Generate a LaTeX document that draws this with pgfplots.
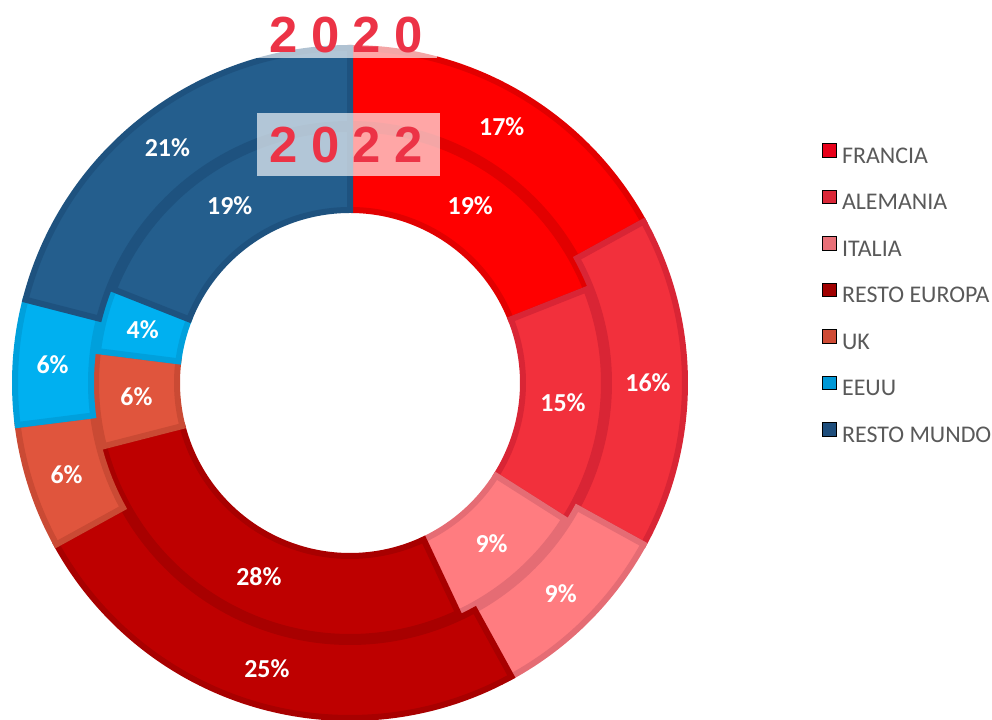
\documentclass[border=0pt]{standalone}
\usepackage{pgfplots}
\pgfplotsset{compat=1.18}
\usepackage{pgfplotstable}
\usepackage{fontspec}
\setmainfont{Carlito}
\newfontfamily\yearfont{Liberation Sans}

\definecolor{cFr}{HTML}{FF0000}\definecolor{cFrD}{HTML}{E20000}\definecolor{cFrL}{HTML}{E8001A}
\definecolor{cAl}{HTML}{F2303C}\definecolor{cAlD}{HTML}{D92535}\definecolor{cAlL}{HTML}{DA2838}
\definecolor{cIt}{HTML}{FF7C80}\definecolor{cItD}{HTML}{E56C74}\definecolor{cItL}{HTML}{E87078}
\definecolor{cRE}{HTML}{BE0000}\definecolor{cRED}{HTML}{A80000}\definecolor{cREL}{HTML}{A00000}
\definecolor{cUK}{HTML}{E0553D}\definecolor{cUKD}{HTML}{CA4A34}\definecolor{cUKL}{HTML}{CF4B35}
\definecolor{cUS}{HTML}{00B0F0}\definecolor{cUSD}{HTML}{00A0DC}\definecolor{cUSL}{HTML}{0098D6}
\definecolor{cRM}{HTML}{245E8D}\definecolor{cRMD}{HTML}{1E527F}\definecolor{cRML}{HTML}{1F4E7C}
\definecolor{yearred}{HTML}{EC3346}
\definecolor{legtext}{HTML}{595959}

\pgfplotstableread[col sep=comma]{
name,col,y2020,y2022
FRANCIA,cFr,17,19
ALEMANIA,cAl,16,15
ITALIA,cIt,9,9
RESTO EUROPA,cRE,25,28
UK,cUK,6,6
EEUU,cUS,6,4
RESTO MUNDO,cRM,21,19
}\data

\newcommand\labfont{\fontsize{26}{28}\selectfont\bfseries}

\begin{document}
\begin{tikzpicture}
\begin{axis}[
  x=1bp, y=1bp, xmin=0, xmax=992, ymin=0, ymax=720,
  hide axis, clip=true,
  legend image code/.code={\fill[#1] (0bp,-1bp) rectangle (13.5bp,12.5bp);},
  legend style={at={(axis cs:819,579)}, anchor=north west, draw=none, fill=none,
    font=\fontsize{24}{24}\selectfont, text=legtext,
    nodes={inner sep=0pt, text height=15bp, text depth=0pt},
    row sep=26.3bp, column sep=6bp},
  legend cell align=left,
]
\coordinate (C) at (axis cs:350,337);
\def\cumA{0}\def\cumB{0}
% rings
\pgfplotsforeachungrouped \i in {0,...,6}{%
  \pgfplotstablegetelem{\i}{col}\of\data \edef\cc{\pgfplotsretval}%
  \pgfplotstablegetelem{\i}{y2020}\of\data \edef\va{\pgfplotsretval}%
  \pgfplotstablegetelem{\i}{y2022}\of\data \edef\vb{\pgfplotsretval}%
  \pgfmathsetmacro\aA{90-3.6*\cumA}%
  \pgfmathsetmacro\aB{90-3.6*(\cumA+\va)}%
  \pgfmathsetmacro\cumA{\cumA+\va}%
  \pgfmathsetmacro\bA{90-3.6*\cumB}%
  \pgfmathsetmacro\bB{90-3.6*(\cumB+\vb)}%
  \pgfmathsetmacro\cumB{\cumB+\vb}%
  \edef\cmd{%
    \noexpand\filldraw[fill=\cc, draw=\cc D, line width=6bp, line join=miter]
      ([shift={(\aA:335bp)}]C) arc[start angle=\aA, end angle=\aB, radius=335bp]
      -- ([shift={(\aB:259bp)}]C) arc[start angle=\aB, end angle=\aA, radius=259bp] -- cycle;
    \noexpand\filldraw[fill=\cc, draw=\cc D, line width=6bp, line join=miter]
      ([shift={(\bA:254bp)}]C) arc[start angle=\bA, end angle=\bB, radius=254bp]
      -- ([shift={(\bB:173bp)}]C) arc[start angle=\bB, end angle=\bA, radius=173bp] -- cycle;
  }\cmd
}
% labels
\def\cumA{0}\def\cumB{0}
\pgfplotsforeachungrouped \i in {0,...,6}{%
  \pgfplotstablegetelem{\i}{y2020}\of\data \edef\va{\pgfplotsretval}%
  \pgfplotstablegetelem{\i}{y2022}\of\data \edef\vb{\pgfplotsretval}%
  \pgfmathsetmacro\aM{90-3.6*(\cumA+\va/2)}%
  \pgfmathsetmacro\cumA{\cumA+\va}%
  \pgfmathsetmacro\bM{90-3.6*(\cumB+\vb/2)}%
  \pgfmathsetmacro\cumB{\cumB+\vb}%
  \edef\cmd{%
    \noexpand\node[text=white, font=\noexpand\labfont, inner sep=0pt] at ([shift={(\aM:298bp)}]C) {\va\noexpand\%};
    \noexpand\node[text=white, font=\noexpand\labfont, inner sep=0pt] at ([shift={(\bM:214bp)}]C) {\vb\noexpand\%};
  }\cmd
}
% year boxes
\fill[white, opacity=0.65] (axis cs:255,662) rectangle (axis cs:437,720);
\fill[white, opacity=0.65] (axis cs:257,544) rectangle (axis cs:440,607);
\node[text=yearred, inner sep=0pt, font=\yearfont\bfseries\fontsize{51}{51}\selectfont] at (axis cs:346,685)
  {\makebox[41.5bp]{2}\makebox[41.5bp]{0}\makebox[41.5bp]{2}\makebox[41.5bp]{0}};
\node[text=yearred, inner sep=0pt, font=\yearfont\bfseries\fontsize{51}{51}\selectfont] at (axis cs:346,575)
  {\makebox[41.5bp]{2}\makebox[41.5bp]{0}\makebox[41.5bp]{2}\makebox[41.5bp]{2}};
% legend
\addlegendimage{fill=cFrL}\addlegendentry{FRANCIA}
\addlegendimage{fill=cAlL}\addlegendentry{ALEMANIA}
\addlegendimage{fill=cItL}\addlegendentry{ITALIA}
\addlegendimage{fill=cREL}\addlegendentry{RESTO EUROPA}
\addlegendimage{fill=cUKL}\addlegendentry{UK}
\addlegendimage{fill=cUSL}\addlegendentry{EEUU}
\addlegendimage{fill=cRML}\addlegendentry{RESTO MUNDO}
\end{axis}
\pgfresetboundingbox
\path (current axis.south west) rectangle (current axis.north east);
\end{tikzpicture}
\end{document}
